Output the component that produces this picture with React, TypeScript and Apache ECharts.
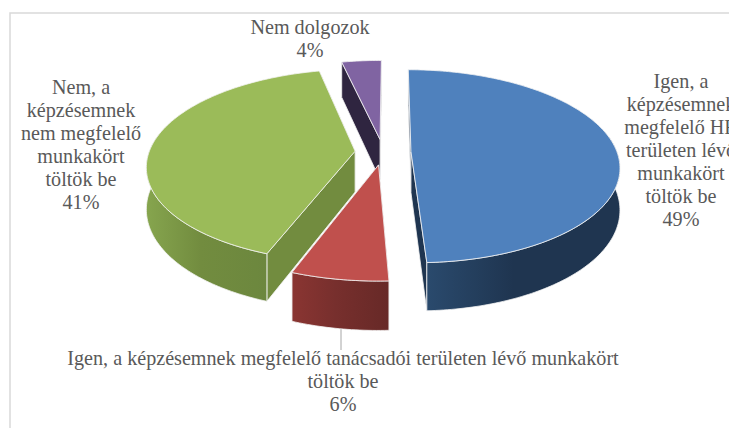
import React, { useEffect, useRef } from "react";
import * as echarts from "echarts";

const categories = [
  "Igen, a\nképzésemnek\nmegfelelő HR\nterületen lévő\nmunkakört\ntöltök be",
  "Igen, a képzésemnek megfelelő tanácsadói területen lévő munkakört\ntöltök be",
  "Nem, a\nképzésemnek\nnem megfelelő\nmunkakört\ntöltök be",
  "Nem dolgozok",
];
const shareValues = [49.2, 6.4, 40.8, 3.6];

const topColors = ["#4f81bd", "#c0504d", "#9bbb59", "#8064a2"];
const cutColors = ["#1f3550", "#6b2a28", "#728c3f", "#2f2540"];
const wallStops = [
  ["#2a4a6d", "#1f3550", "#1f3550"],
  ["#8a3532", "#772f2d", "#672927"],
  ["#86a54e", "#728c3f", "#6c873e"],
  ["#2f2540", "#2f2540", "#2f2540"],
];
const drawRank = [3, 4, 2, 1];
const labelCentres = [
  [681, 149.5],
  [343, 381],
  [81, 144],
  [310, 38.5],
];

const CX = 383;
const CY = 152;
const RX = 206;
const RY = 94.4;
const PERSP = 0.15;
const DEPTH = 41;
const EXPLODE = 0.136;
const START = 0.3;

const rad = (d: number) => (d * Math.PI) / 180;
const total = shareValues.reduce((a, b) => a + b, 0);

function project(X: number, Y: number, Z: number): number[] {
  const f = 1 / (1 + PERSP * Y);
  return [CX + X * RX * f, CY - Y * RY * f + Z * DEPTH * f];
}

function renderItem(params: any, api: any) {
  const i = params.dataIndex;
  const value = api.value(0);
  let before = 0;
  for (let k = 0; k < i; k++) before += shareValues[k];
  const a0 = START + (before / total) * 360;
  const a1 = a0 + (value / total) * 360;
  const mid = rad((a0 + a1) / 2);
  const ox = EXPLODE * Math.sin(mid);
  const oy = EXPLODE * Math.cos(mid);
  const pt = (deg: number, z: number) =>
    project(ox + Math.sin(rad(deg)), oy + Math.cos(rad(deg)), z);
  const apex = (z: number) => project(ox, oy, z);
  const arc = (from: number, to: number, z: number) => {
    const out: number[][] = [];
    const n = Math.max(2, Math.ceil(Math.abs(to - from)));
    for (let s = 0; s <= n; s++) out.push(pt(from + ((to - from) * s) / n, z));
    return out;
  };
  const base = drawRank[i] * 10;
  const edge = { stroke: "#f4f4f4", lineWidth: 0.8, lineJoin: "round" };
  const children: any[] = [];
  const cut = (deg: number, z2: number) => ({
    type: "polygon",
    z2,
    shape: { points: [apex(0), pt(deg, 0), pt(deg, 1), apex(1)] },
    style: { fill: cutColors[i], ...edge },
  });
  const a0Back = Math.cos(rad(a0)) > Math.cos(rad(a1));
  children.push(cut(a0, base + (a0Back ? 1 : 2)));
  children.push(cut(a1, base + (a0Back ? 2 : 1)));
  const wallFrom = Math.max(a0, 80);
  const wallTo = Math.min(a1, 280);
  if (wallTo > wallFrom) {
    children.push({
      type: "polygon",
      z2: base + 3,
      shape: {
        points: [...arc(wallFrom, wallTo, 0), ...arc(wallTo, wallFrom, 1)],
      },
      style: {
        fill: {
          type: "linear",
          x: 0,
          y: 0,
          x2: 1,
          y2: 0,
          colorStops: [
            { offset: 0, color: wallStops[i][0] },
            { offset: 0.45, color: wallStops[i][1] },
            { offset: 1, color: wallStops[i][2] },
          ],
        },
        ...edge,
      },
    });
  }
  children.push({
    type: "polygon",
    z2: base + 4,
    shape: { points: [apex(0), ...arc(a0, a1, 0)] },
    style: { fill: topColors[i], ...edge },
  });
  const pct = Math.round((value / total) * 100);
  children.push({
    type: "text",
    z2: 100,
    style: {
      text: `${categories[i]}\n${pct}%`,
      x: labelCentres[i][0],
      y: labelCentres[i][1],
      align: "center",
      verticalAlign: "middle",
      fill: "#595959",
      font: '20.15px "Liberation Serif"',
      lineHeight: 23,
    },
  });
  if (i === 1) {
    children.push({
      type: "line",
      z2: 5,
      shape: { x1: 341, y1: 328, x2: 341, y2: 350 },
      style: { stroke: "#a6a6a6", lineWidth: 1 },
    });
  }
  return { type: "group", children };
}

export default function App() {
  const ref = useRef<HTMLDivElement>(null);
  useEffect(() => {
    const chart = echarts.init(ref.current!, undefined, { renderer: "svg" });
    chart.setOption({
      animation: false,
      backgroundColor: "#ffffff",
      graphic: [
        {
          type: "rect",
          z: -1,
          silent: true,
          shape: { x: 10, y: 13, width: 900, height: 600 },
          style: { fill: "#ffffff", stroke: "#d9d9d9", lineWidth: 1.5 },
        },
      ],
      series: [
        {
          type: "custom",
          coordinateSystem: "none",
          renderItem,
          data: shareValues.map((v) => [v]),
        },
      ],
    });
    return () => chart.dispose();
  }, []);
  return (
    <div
      ref={ref}
      style={{ position: "fixed", left: 0, top: 0, width: 729, height: 428 }}
    />
  );
}
